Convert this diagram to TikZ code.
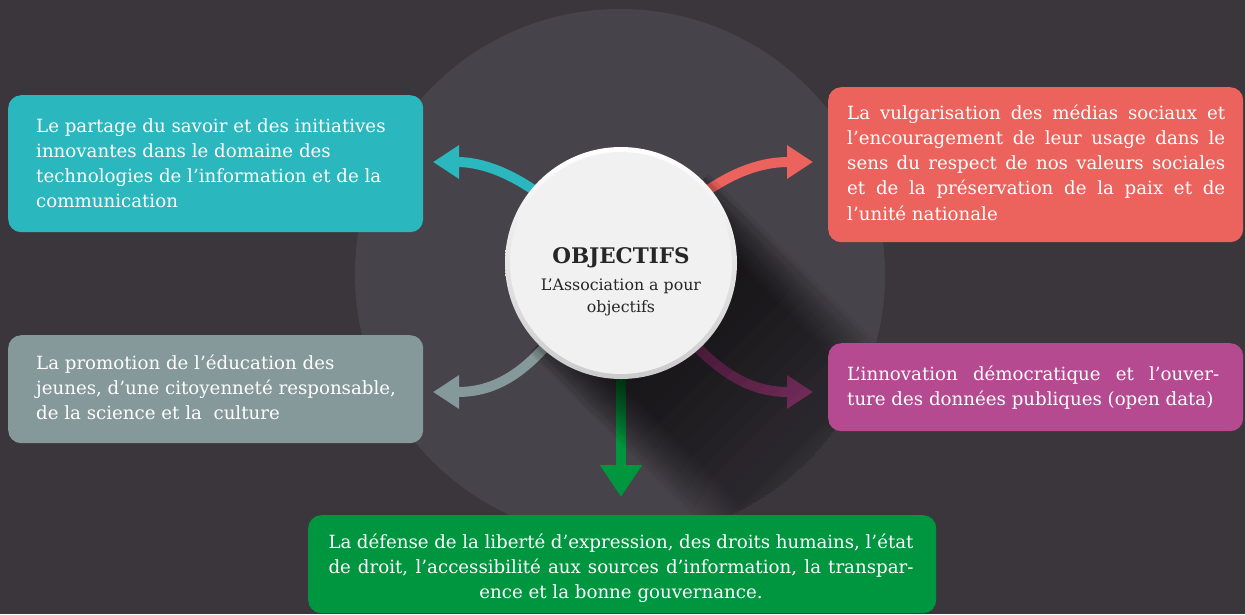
\documentclass[tikz,border=0pt]{standalone}
\usepackage{fontspec}
\setmainfont{DejaVu Serif}
\usetikzlibrary{arrows.meta,fadings,calc}
\definecolor{bgc}{HTML}{3B363C}
\definecolor{bigc}{HTML}{47434A}
\definecolor{tealc}{HTML}{2AB7BD}
\definecolor{redc}{HTML}{EC625C}
\definecolor{grayc}{HTML}{85989A}
\definecolor{magc}{HTML}{B54A91}
\definecolor{greenc}{HTML}{00963F}
\definecolor{facec}{HTML}{F1F1F1}
\definecolor{ringc}{HTML}{CBCBCB}
\definecolor{darkt}{HTML}{262626}
\pgfdeclarelayer{background}
\pgfsetlayers{background,main}
\tikzfading[name=shfade, left color=transparent!91, right color=transparent!100]
\newcommand{\boxfont}{\fontsize{18.2}{25.3}\selectfont}
\newcommand{\jline}[2]{\makebox[#1][s]{#2}}
\begin{document}
\begin{tikzpicture}[x=1pt,y=-1pt,
  panel/.style={rounded corners=13pt, inner sep=0pt, anchor=north west, draw=none},
  ptext/.style={anchor=base west, inner sep=0pt, text=white, font=\boxfont},
  arrowst/.style={line width=10pt, -{Triangle[width=32pt,length=26pt]}},
  ctext/.style={anchor=base, inner sep=0pt, text=darkt},
  shadowst/.style={black, path fading=shfade, fading angle=-45}]
\useasboundingbox (0,0) rectangle (1245,614);

% panels
\node[panel, fill=tealc, minimum width=415pt, minimum height=137pt] (bA) at (8,95) {};
\node[panel, fill=redc, minimum width=415pt, minimum height=155pt] (bB) at (828,87) {};
\node[panel, fill=grayc, minimum width=415pt, minimum height=108pt] (bC) at (8,335) {};
\node[panel, fill=magc, minimum width=415pt, minimum height=88pt] (bD) at (828,343) {};
\node[panel, fill=greenc, minimum width=628pt, minimum height=98pt] (bE) at (308,515) {};

\node[ptext] (tA) at (36,132) {\parbox[t]{384pt}{\raggedright Le partage du savoir et des initiatives\\innovantes dans le domaine des\\technologies de l’information et de la\\communication}};
\node[ptext] (tB) at (847,119) {\parbox[t]{378pt}{\raggedright
\jline{378pt}{La vulgarisation des médias sociaux et}\\
\jline{378pt}{l’encouragement de leur usage dans le}\\
\jline{378pt}{sens du respect de nos valeurs sociales}\\
\jline{378pt}{et de la préservation de la paix et de}\\
l’unité nationale}};
\node[ptext] (tC) at (36,369) {\parbox[t]{384pt}{\raggedright La promotion de l’éducation des\\jeunes, d’une citoyenneté responsable,\\de la science et la\ \ culture}};
\node[ptext] (tD) at (847,380) {\parbox[t]{376pt}{\raggedright
\jline{372pt}{L’innovation démocratique et l’ouver-}\\
ture des données publiques (open data)}};
\node[ptext, anchor=base] (tE) at (621,548) {\parbox[t]{590pt}{\centering
\jline{585pt}{La défense de la liberté d’expression, des droits humains, l’état}\\
\jline{585pt}{de droit, l’accessibilité aux sources d’information, la transpar-}\\
ence et la bonne gouvernance.}};

% centre
\node[circle, minimum size=232pt, inner sep=0pt, top color=white, bottom color=ringc] (c) at (621,263) {};
\fill[facec] (c.center) circle (111);
\node[ctext, font=\bfseries\fontsize{21.5}{24}\selectfont] (tt) at (621,263) {OBJECTIFS};
\node[ctext, font=\fontsize{15.8}{22}\selectfont] (ts) at (621,290) {\parbox[t]{220pt}{\centering L’Association a pour\\objectifs}};

\coordinate (pA) at (433,162);
\coordinate (pB) at (813,162);
\coordinate (pC) at (433,392);
\coordinate (pD) at (813,392);
\coordinate (pE) at (621,497);

\begin{pgfonlayer}{background}
\fill[bgc] (0,0) rectangle (1245,614);
\fill[bigc] (620,274) circle (265);
\draw[arrowst, tealc, shorten <=-15pt] (c.140) .. controls (505,168) and (475,162) .. (pA);
\draw[arrowst, redc, shorten <=-15pt] (c.40) .. controls (737,168) and (767,162) .. (pB);
\draw[arrowst, grayc, shorten <=-15pt] (c.228) .. controls (520,378) and (490,392) .. (pC);
\draw[arrowst, magc, shorten <=-15pt] (c.312) .. controls (725,378) and (755,392) .. (pD);
\draw[line width=10pt, greenc, -{Triangle[width=40pt,length=32pt]}, shorten <=-15pt] (c.south) -- (pE);
\begin{scope}
\clip (620,274) circle (265);
% long shadow: overlapping bands for a soft edge
\foreach \h in {85,88,...,127} {
  \fill[shadowst] ($(621,263)+(0.7071*\h,-0.7071*\h)$) -- ++(220,220) -- ($(621,263)+(-0.7071*\h,0.7071*\h)+(220,220)$) -- ($(621,263)+(-0.7071*\h,0.7071*\h)$) -- cycle;
}
\end{scope}
\end{pgfonlayer}
\end{tikzpicture}
\end{document}
